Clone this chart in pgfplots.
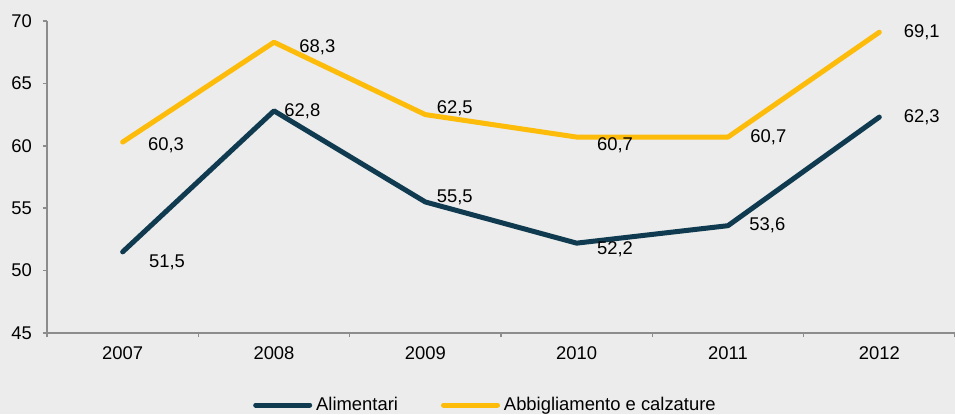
\documentclass[border=0pt]{standalone}
\usepackage{fontspec}
\setmainfont{Liberation Sans}
\usepackage{pgfplots}
\usepackage{pgfplotstable}
\pgfplotsset{compat=1.18}
\definecolor{bgcol}{HTML}{EBECEB}
\definecolor{axcol}{HTML}{8C8C8C}
\definecolor{navy}{HTML}{0F3A50}
\definecolor{gold}{HTML}{FDBB0A}

% x  y  dx(pt)  dy(pt) label offsets
\pgfplotstableread{
x y dx dy
0 51.5 12 -5
1 62.8 4 0
2 55.5 4.5 2.5
3 52.2 9 -3
4 53.6 9.5 0
5 62.3 11 0
}\alimentari
\pgfplotstableread{
x y dx dy
0 60.3 11.5 -1.5
1 68.3 11.5 -2.5
2 62.5 4.5 3
3 60.7 9 -4
4 60.7 10 0
5 69.1 11 0
}\abbigliamento

\begin{document}
\begin{tikzpicture}
\useasboundingbox (-23.5pt,-40.5pt) rectangle (454pt,166.5pt);
\fill[bgcol] (-23.5pt,-40.5pt) rectangle (454pt,166.5pt);
\begin{axis}[
    scale only axis,
    width=454pt, height=156pt,
    xmin=-0.5, xmax=5.5,
    ymin=45, ymax=70,
    ytick={45,50,...,70},
    xtick={0,...,5},
    xticklabels={2007,2008,2009,2010,2011,2012},
    minor xtick={-0.5,0.5,...,5.5},
    axis x line=bottom, axis y line=left,
    axis line style={-, axcol, line width=1pt},
    tick align=outside,
    major tick length=2pt, minor tick length=2pt,
    tick style={axcol, line width=0.8pt},
    major x tick style={draw=none},
    font=\fontsize{9.2}{11}\selectfont,
    ticklabel style={font=\fontsize{9.2}{11}\selectfont, text=black},
    yticklabel style={xshift=-2pt},
    xticklabel style={yshift=-1.5pt},
    /pgf/number format/assume math mode=true,
    nodes near coords={\pgfmathprintnumber[fixed,precision=1,fixed zerofill,use comma]{\pgfplotspointmeta}},
    visualization depends on={\thisrow{dx} \as \dx},
    visualization depends on={\thisrow{dy} \as \dy},
    nodes near coords style={anchor=west, text=black, inner sep=0pt,
        xshift=\dx pt, yshift=\dy pt, font=\fontsize{9.2}{11}\selectfont},
    legend columns=2,
    legend style={draw=none, fill=none, at={(0.484,0)}, anchor=center,
        yshift=-36pt, font=\fontsize{9.2}{11}\selectfont,
        /tikz/every even column/.append style={column sep=19.5pt}},
    legend image code/.code={\draw[#1, line cap=round] (0pt,0pt) -- (27pt,0pt);},
    clip=false,
]
\addplot[navy, line width=2.5pt, line cap=round, line join=round] table[x=x, y=y] {\alimentari};
\addlegendentry{Alimentari}
\addplot[gold, line width=2.5pt, line cap=round, line join=round] table[x=x, y=y] {\abbigliamento};
\addlegendentry{Abbigliamento e calzature}
\end{axis}
\end{tikzpicture}
\end{document}
